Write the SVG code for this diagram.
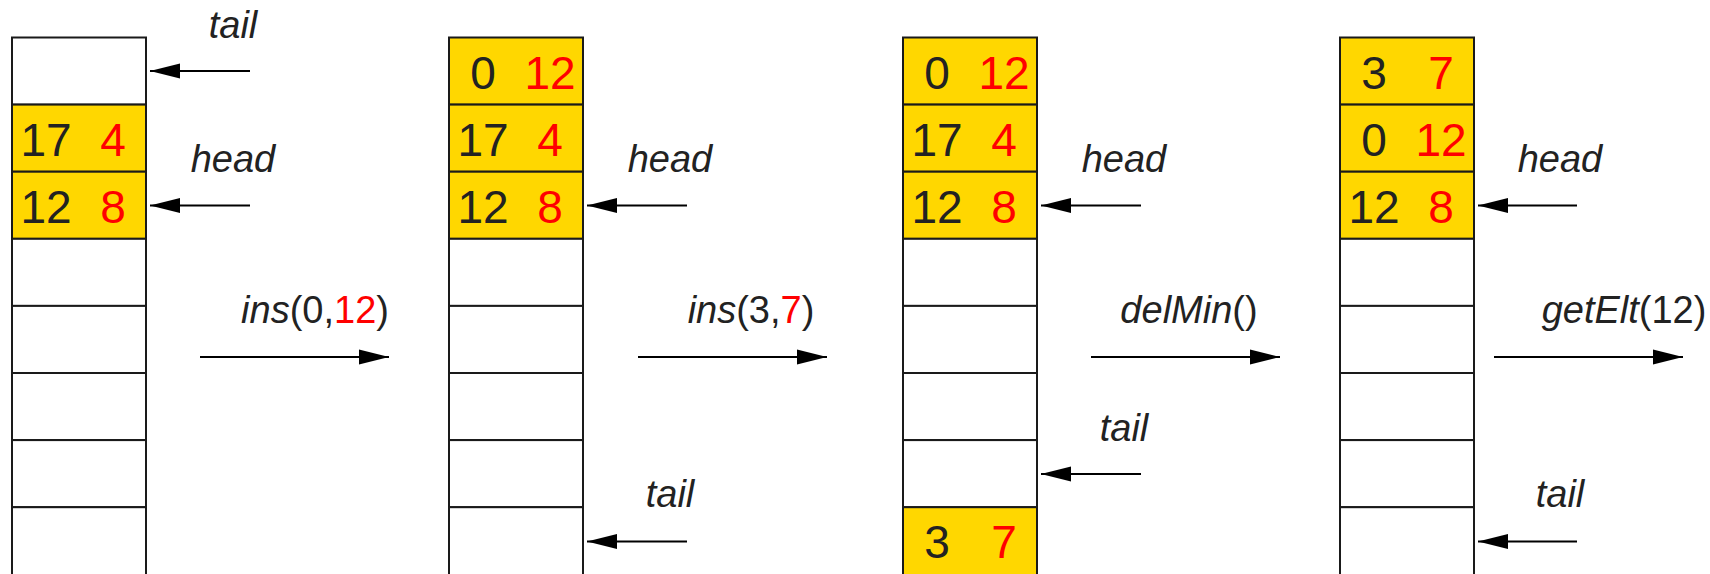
<svg xmlns="http://www.w3.org/2000/svg" width="1710" height="574" viewBox="0 0 1710 574">
  <style>
    .cell { fill: #ffffff; stroke: #1a1a1a; stroke-width: 2; }
    .full { fill: #ffd700; stroke: #1a1a1a; stroke-width: 2; }
    .num { font-family: "Liberation Sans", Arial, sans-serif; font-size: 46px; text-anchor: middle; }
    .key { fill: #222222; }
    .val { fill: #ff0000; }
    .lbl { font-family: "Liberation Sans", Arial, sans-serif; font-size: 38px; font-style: italic; fill: #222222; text-anchor: middle; }
    .op { font-family: "Liberation Sans", Arial, sans-serif; font-size: 38px; fill: #222222; text-anchor: middle; }
    .op .fn { font-style: italic; }
    .op .red { fill: #ff0000; }
    .ptr { stroke: #000000; stroke-width: 2; fill: none; }
  </style>
  <defs>
    <marker id="tip" markerUnits="userSpaceOnUse" markerWidth="30" markerHeight="16" refX="30" refY="8" orient="auto">
      <path d="M0,0.5 L30,8 L0,15.5 Z" fill="#000000"/>
    </marker>
  </defs>

  <rect width="1710" height="574" fill="#ffffff"/>

  <!-- Array state 1: head at slot 2, tail at slot 0 -->
  <g id="array1">
    <rect class="cell" x="12" y="37.5" width="134" height="67.1"/>
    <rect class="full" x="12" y="104.6" width="134" height="67.1"/>
    <rect class="full" x="12" y="171.7" width="134" height="67.1"/>
    <rect class="cell" x="12" y="238.8" width="134" height="67.1"/>
    <rect class="cell" x="12" y="305.9" width="134" height="67.1"/>
    <rect class="cell" x="12" y="373" width="134" height="67.1"/>
    <rect class="cell" x="12" y="440.1" width="134" height="67.1"/>
    <rect class="cell" x="12" y="507.2" width="134" height="80"/>
    <text class="num key" x="46" y="156">17</text>
    <text class="num val" x="113" y="156">4</text>
    <text class="num key" x="46" y="223">12</text>
    <text class="num val" x="113" y="223">8</text>
  </g>

  <!-- Array state 2: after ins(0,12) -->
  <g id="array2">
    <rect class="full" x="449" y="37.5" width="134" height="67.1"/>
    <rect class="full" x="449" y="104.6" width="134" height="67.1"/>
    <rect class="full" x="449" y="171.7" width="134" height="67.1"/>
    <rect class="cell" x="449" y="238.8" width="134" height="67.1"/>
    <rect class="cell" x="449" y="305.9" width="134" height="67.1"/>
    <rect class="cell" x="449" y="373" width="134" height="67.1"/>
    <rect class="cell" x="449" y="440.1" width="134" height="67.1"/>
    <rect class="cell" x="449" y="507.2" width="134" height="80"/>
    <text class="num key" x="483" y="89">0</text>
    <text class="num val" x="550" y="89">12</text>
    <text class="num key" x="483" y="156">17</text>
    <text class="num val" x="550" y="156">4</text>
    <text class="num key" x="483" y="223">12</text>
    <text class="num val" x="550" y="223">8</text>
  </g>

  <!-- Array state 3: after ins(3,7), wrapped to the last slot -->
  <g id="array3">
    <rect class="full" x="903" y="37.5" width="134" height="67.1"/>
    <rect class="full" x="903" y="104.6" width="134" height="67.1"/>
    <rect class="full" x="903" y="171.7" width="134" height="67.1"/>
    <rect class="cell" x="903" y="238.8" width="134" height="67.1"/>
    <rect class="cell" x="903" y="305.9" width="134" height="67.1"/>
    <rect class="cell" x="903" y="373" width="134" height="67.1"/>
    <rect class="cell" x="903" y="440.1" width="134" height="67.1"/>
    <rect class="full" x="903" y="507.2" width="134" height="80"/>
    <text class="num key" x="937" y="89">0</text>
    <text class="num val" x="1004" y="89">12</text>
    <text class="num key" x="937" y="156">17</text>
    <text class="num val" x="1004" y="156">4</text>
    <text class="num key" x="937" y="223">12</text>
    <text class="num val" x="1004" y="223">8</text>
    <text class="num key" x="937" y="558">3</text>
    <text class="num val" x="1004" y="558">7</text>
  </g>

  <!-- Array state 4: after delMin() -->
  <g id="array4">
    <rect class="full" x="1340" y="37.5" width="134" height="67.1"/>
    <rect class="full" x="1340" y="104.6" width="134" height="67.1"/>
    <rect class="full" x="1340" y="171.7" width="134" height="67.1"/>
    <rect class="cell" x="1340" y="238.8" width="134" height="67.1"/>
    <rect class="cell" x="1340" y="305.9" width="134" height="67.1"/>
    <rect class="cell" x="1340" y="373" width="134" height="67.1"/>
    <rect class="cell" x="1340" y="440.1" width="134" height="67.1"/>
    <rect class="cell" x="1340" y="507.2" width="134" height="80"/>
    <text class="num key" x="1374" y="89">3</text>
    <text class="num val" x="1441" y="89">7</text>
    <text class="num key" x="1374" y="156">0</text>
    <text class="num val" x="1441" y="156">12</text>
    <text class="num key" x="1374" y="223">12</text>
    <text class="num val" x="1441" y="223">8</text>
  </g>

  <!-- head / tail pointer labels -->
  <g id="labels">
    <text class="lbl" x="233" y="38">tail</text>
    <text class="lbl" x="233" y="172">head</text>
    <text class="lbl" x="670" y="172">head</text>
    <text class="lbl" x="670" y="507">tail</text>
    <text class="lbl" x="1124" y="172">head</text>
    <text class="lbl" x="1124" y="441">tail</text>
    <text class="lbl" x="1560" y="172">head</text>
    <text class="lbl" x="1560" y="507">tail</text>
  </g>

  <!-- operation labels -->
  <g id="operations">
    <text class="op" x="315" y="323"><tspan class="fn">ins</tspan>(0,<tspan class="red">12</tspan>)</text>
    <text class="op" x="751" y="323"><tspan class="fn">ins</tspan>(3,<tspan class="red">7</tspan>)</text>
    <text class="op" x="1189" y="323"><tspan class="fn">delMin</tspan>()</text>
    <text class="op" x="1624" y="323"><tspan class="fn">getElt</tspan>(12)</text>
  </g>

  <!-- connectors: pointers and transition arrows -->
  <g id="connectors">
    <line class="ptr" x1="250" y1="71" x2="150" y2="71" marker-end="url(#tip)"/>
    <line class="ptr" x1="250" y1="205.5" x2="150" y2="205.5" marker-end="url(#tip)"/>
    <line class="ptr" x1="687" y1="205.5" x2="587" y2="205.5" marker-end="url(#tip)"/>
    <line class="ptr" x1="687" y1="541.5" x2="587" y2="541.5" marker-end="url(#tip)"/>
    <line class="ptr" x1="1141" y1="205.5" x2="1041" y2="205.5" marker-end="url(#tip)"/>
    <line class="ptr" x1="1141" y1="474" x2="1041" y2="474" marker-end="url(#tip)"/>
    <line class="ptr" x1="1577" y1="205.5" x2="1478" y2="205.5" marker-end="url(#tip)"/>
    <line class="ptr" x1="1577" y1="541.5" x2="1478" y2="541.5" marker-end="url(#tip)"/>
    <line class="ptr" x1="200" y1="357" x2="389" y2="357" marker-end="url(#tip)"/>
    <line class="ptr" x1="638" y1="357" x2="827" y2="357" marker-end="url(#tip)"/>
    <line class="ptr" x1="1091" y1="357" x2="1280" y2="357" marker-end="url(#tip)"/>
    <line class="ptr" x1="1494" y1="357" x2="1683" y2="357" marker-end="url(#tip)"/>
  </g>
</svg>
